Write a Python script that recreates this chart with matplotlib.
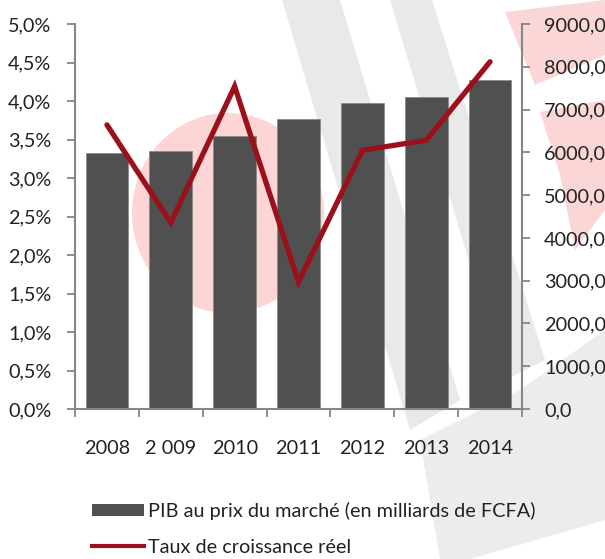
import numpy as np
import matplotlib.pyplot as plt
from matplotlib.patches import Ellipse, Polygon, Patch
from matplotlib.lines import Line2D
from matplotlib.ticker import FuncFormatter, MultipleLocator

# -------------------------
# DATA
# -------------------------

years = ["2008", "2 009", "2010", "2011", "2012", "2013", "2014"]
pib = [5980, 6020, 6380, 6770, 7150, 7290, 7690]
croissance = [3.69, 2.42, 4.19, 1.65, 3.36, 3.49, 4.51]

bar_label = "PIB au prix du marché (en milliards de FCFA)"
line_label = "Taux de croissance réel"

bar_color = "#505050"
line_color = "#9b111b"
axis_color = "#868686"

plt.rcParams["font.family"] = ["Lato", "DejaVu Sans"]
plt.rcParams["font.size"] = 14.3

W, H = 605, 559
fig = plt.figure(figsize=(W / 100, H / 100), dpi=100)

# -------------------------
# WATERMARK (background)
# -------------------------

def px(x, y):
    return (x / W, 1 - y / H)

def shape(points, color):
    fig.patches.append(Polygon([px(a, b) for a, b in points], closed=True,
                               transform=fig.transFigure, color=color,
                               zorder=-1, linewidth=0))

fig.patches.append(Ellipse(px(228, 213), 2 * 96 / W, 2 * 100 / H,
                           transform=fig.transFigure, color="#fdd5d5",
                           zorder=-1, linewidth=0))
shape([(282, 0), (340, 0), (460, 400), (410, 430)], "#e9e9e9")
shape([(390, 0), (432, 0), (545, 360), (505, 380)], "#e9e9e9")
shape([(420, 440), (520, 390), (605, 330), (605, 520), (470, 559), (440, 559)], "#ececec")
shape([(505, 12), (605, 0), (605, 55), (535, 85)], "#fbd6d6")
shape([(540, 112), (605, 100), (605, 210), (575, 250), (560, 175)], "#fbd6d6")

# -------------------------
# AXES
# -------------------------

ax = fig.add_axes([75 / W, 1 - 409 / H, 447 / W, 385 / H])
ax2 = ax.twinx()
ax.set_zorder(ax2.get_zorder() + 1)
ax.patch.set_visible(False)
ax2.patch.set_visible(False)

x = np.arange(len(years))

ax2.bar(x, pib, width=0.67, color=bar_color, edgecolor="#8a8a8a",
        linewidth=0.6)
ax.plot(x, croissance, color=line_color, linewidth=3.8,
        solid_capstyle="round", solid_joinstyle="miter")

ax.set_xlim(-0.5, len(years) - 0.5)
ax.set_ylim(0, 5)
ax2.set_ylim(0, 9000)

ax.yaxis.set_major_locator(MultipleLocator(0.5))
ax2.yaxis.set_major_locator(MultipleLocator(1000))
ax.yaxis.set_major_formatter(FuncFormatter(lambda v, p: f"{v:.1f}%".replace(".", ",")))
ax2.yaxis.set_major_formatter(FuncFormatter(lambda v, p: f"{v:.1f}".replace(".", ",")))

ax.set_xticks(x)
ax.set_xticklabels(years)
ax.set_xticks(np.arange(-0.5, len(years)), minor=True)
ax.tick_params(axis="x", which="major", length=0, pad=22, colors="#222222")
ax.tick_params(axis="x", which="minor", length=6, width=1.3, color=axis_color,
               direction="out")
ax.tick_params(axis="y", length=6, width=1.3, color=axis_color, pad=11,
               labelcolor="#222222")
ax2.tick_params(axis="y", length=6, width=1.3, color=axis_color, pad=10,
                labelcolor="#222222")

for a in (ax, ax2):
    a.spines["top"].set_visible(False)
    for s in ("left", "right", "bottom"):
        a.spines[s].set_color(axis_color)
        a.spines[s].set_linewidth(1.5)
ax.spines["right"].set_visible(False)
ax2.spines["left"].set_visible(False)
ax2.spines["bottom"].set_visible(False)

# -------------------------
# LEGEND
# -------------------------

handles = [Patch(facecolor=bar_color, edgecolor="none"),
           Line2D([0], [0], color=line_color, linewidth=3)]
fig.legend(handles, [bar_label, line_label], loc="upper left",
           bbox_to_anchor=(84 / W, 1 - 494 / H), frameon=False,
           handlelength=2.6, handleheight=0.6, handletextpad=0.2,
           labelspacing=0.95, borderaxespad=0, labelcolor="#222222")

fig.savefig("out.png", dpi=100)
